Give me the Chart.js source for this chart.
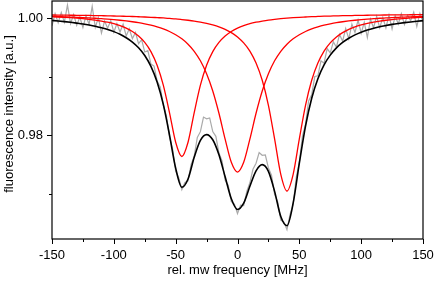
<!DOCTYPE html>
<html>
<head>
<meta charset="utf-8">
<script src="https://cdn.jsdelivr.net/npm/chart.js@4.4.1/dist/chart.umd.min.js"></script>
<style>
html,body{margin:0;padding:0;background:#fff;}
#wrap{width:436px;height:282px;}
</style>
</head>
<body>
<div id="wrap"><canvas id="c" width="436" height="282"></canvas></div>
<script>
// Fit curves sampled every 5 MHz
const fitFreq = [-150,-145,-140,-135,-130,-125,-120,-115,-110,-105,-100,-95,-90,-85,-80,-75,-70,-65,-60,-55,-50,-45,-40,-35,-30,-25,-20,-15,-10,-5,0,5,10,15,20,25,30,35,40,45,50,55,60,65,70,75,80,85,90,95,100,105,110,115,120,125,130,135,140,145,150];
const redLeft = [1.00031,1.00026,1.00021,1.00014,1.00006,0.99997,0.99986,0.99973,0.99956,0.99936,0.99911,0.99878,0.99835,0.99778,0.99700,0.99591,0.99433,0.99199,0.98857,0.98387,0.97879,0.97634,0.97879,0.98387,0.98857,0.99199,0.99433,0.99591,0.99700,0.99778,0.99835,0.99878,0.99911,0.99936,0.99956,0.99973,0.99986,0.99997,1.00006,1.00014,1.00021,1.00026,1.00031,1.00035,1.00039,1.00042,1.00045,1.00048,1.00050,1.00052,1.00054,1.00056,1.00057,1.00059,1.00060,1.00061,1.00062,1.00063,1.00064,1.00065,1.00066];
const redCenter = [1.00035,1.00032,1.00028,1.00025,1.00020,1.00016,1.00010,1.00004,0.99997,0.99990,0.99981,0.99970,0.99958,0.99944,0.99928,0.99908,0.99885,0.99856,0.99821,0.99777,0.99722,0.99651,0.99559,0.99438,0.99275,0.99054,0.98758,0.98376,0.97932,0.97534,0.97367,0.97534,0.97932,0.98376,0.98758,0.99054,0.99275,0.99438,0.99559,0.99651,0.99722,0.99777,0.99821,0.99856,0.99885,0.99908,0.99928,0.99944,0.99958,0.99970,0.99981,0.99990,0.99997,1.00004,1.00010,1.00016,1.00020,1.00025,1.00028,1.00032,1.00035];
const redRight = [1.00060,1.00059,1.00058,1.00056,1.00055,1.00053,1.00052,1.00050,1.00048,1.00046,1.00043,1.00041,1.00037,1.00034,1.00030,1.00026,1.00021,1.00015,1.00009,1.00001,0.99993,0.99982,0.99970,0.99956,0.99938,0.99917,0.99890,0.99857,0.99814,0.99758,0.99684,0.99582,0.99441,0.99237,0.98941,0.98512,0.97936,0.97329,0.97043,0.97329,0.97936,0.98512,0.98941,0.99237,0.99441,0.99582,0.99684,0.99758,0.99814,0.99857,0.99890,0.99917,0.99938,0.99956,0.99970,0.99982,0.99993,1.00001,1.00009,1.00015,1.00021];
const fitSum = [0.99966,0.99957,0.99947,0.99935,0.99921,0.99906,0.99888,0.99867,0.99841,0.99812,0.99775,0.99729,0.99670,0.99596,0.99498,0.99365,0.99179,0.98910,0.98527,0.98005,0.97434,0.97107,0.97248,0.97621,0.97910,0.98010,0.97921,0.97664,0.97286,0.96910,0.96726,0.96834,0.97124,0.97389,0.97495,0.97379,0.97037,0.96604,0.96448,0.96834,0.97519,0.98155,0.98633,0.98968,0.99205,0.99372,0.99497,0.99590,0.99662,0.99719,0.99765,0.99803,0.99832,0.99859,0.99880,0.99899,0.99915,0.99929,0.99941,0.99952,0.99962];

// Measured data sampled every 2.5 MHz
const dataFreq = [-150,-147.5,-145,-142.5,-140,-137.5,-135,-132.5,-130,-127.5,-125,-122.5,-120,-117.5,-115,-112.5,-110,-107.5,-105,-102.5,-100,-97.5,-95,-92.5,-90,-87.5,-85,-82.5,-80,-77.5,-75,-72.5,-70,-67.5,-65,-62.5,-60,-57.5,-55,-52.5,-50,-47.5,-45,-42.5,-40,-37.5,-35,-32.5,-30,-27.5,-25,-22.5,-20,-17.5,-15,-12.5,-10,-7.5,-5,-2.5,0,2.5,5,7.5,10,12.5,15,17.5,20,22.5,25,27.5,30,32.5,35,37.5,40,42.5,45,47.5,50,52.5,55,57.5,60,62.5,65,67.5,70,72.5,75,77.5,80,82.5,85,87.5,90,92.5,95,97.5,100,102.5,105,107.5,110,112.5,115,117.5,120,122.5,125,127.5,130,132.5,135,137.5,140,142.5,145,147.5,150];
const dataIntensity = [0.99876,1.00082,0.99927,1.00102,0.99937,1.00231,0.99915,1.00068,0.99881,1.00024,0.99846,1.00047,0.99898,1.00208,0.99847,1.00015,0.99751,0.99957,0.99832,0.99964,0.99765,0.99913,0.99769,0.99901,0.99700,0.99825,0.99656,0.99760,0.99568,0.99636,0.99425,0.99448,0.99219,0.99184,0.98930,0.98828,0.98517,0.98335,0.97965,0.97765,0.97384,0.97270,0.97067,0.97190,0.97218,0.97500,0.97641,0.97960,0.98060,0.98310,0.98280,0.98295,0.98061,0.97980,0.97694,0.97560,0.97226,0.97140,0.96860,0.96820,0.96656,0.96800,0.96794,0.97035,0.97184,0.97415,0.97519,0.97700,0.97655,0.97660,0.97439,0.97315,0.96987,0.96855,0.96544,0.96510,0.96378,0.96640,0.96814,0.97275,0.97539,0.97985,0.98185,0.98585,0.98693,0.99005,0.99018,0.99275,0.99235,0.99485,0.99412,0.99600,0.99507,0.99727,0.99610,0.99828,0.99652,0.99902,0.99759,0.99973,0.99745,0.99935,0.99673,0.99988,0.99842,1.00036,0.99839,1.00020,0.99840,1.00060,0.99819,1.00047,0.99905,1.00082,0.99899,1.00055,0.99961,1.00107,0.99862,1.00087,0.99942];

const xMajor = [-150,-100,-50,0,50,100,150];
const xMinor = [-125,-75,-25,25,75,125];
const yMajor = [0.98,1.00];
const yMinor = [0.97,0.99];
const xTitle = 'rel. mw frequency [MHz]';
const yTitle = 'fluorescence intensity [a.u.]';

const pts = (xs, ys) => xs.map((x, i) => ({x: x, y: ys[i]}));
const FONT = 'Liberation Sans, Arial, Helvetica, sans-serif';

const framePlugin = {
  id: 'frame',
  afterDraw(chart) {
    const ctx = chart.ctx, a = chart.chartArea;
    const xs = chart.scales.x, ys = chart.scales.y;
    ctx.save();
    ctx.strokeStyle = '#000';
    ctx.lineWidth = 1.2;
    ctx.strokeRect(a.left, a.top, a.right - a.left, a.bottom - a.top);
    ctx.lineWidth = 1;
    ctx.beginPath();
    xMajor.forEach(v => { const p = Math.round(xs.getPixelForValue(v)) + 0.5; ctx.moveTo(p, a.bottom); ctx.lineTo(p, a.bottom + 5); });
    xMinor.forEach(v => { const p = Math.round(xs.getPixelForValue(v)) + 0.5; ctx.moveTo(p, a.bottom); ctx.lineTo(p, a.bottom + 3); });
    yMajor.forEach(v => { const p = Math.round(ys.getPixelForValue(v)) + 0.5; ctx.moveTo(a.left, p); ctx.lineTo(a.left - 5, p); });
    yMinor.forEach(v => { const p = Math.round(ys.getPixelForValue(v)) + 0.5; ctx.moveTo(a.left, p); ctx.lineTo(a.left - 3, p); });
    ctx.stroke();
    ctx.fillStyle = '#000';
    ctx.font = '13px ' + FONT;
    ctx.textAlign = 'center';
    ctx.textBaseline = 'alphabetic';
    ctx.fillText(xTitle, (a.left + a.right) / 2, 274);
    ctx.translate(13, (a.top + a.bottom) / 2 - 6);
    ctx.rotate(-Math.PI / 2);
    ctx.fillText(yTitle, 0, 0);
    ctx.restore();
  }
};

new Chart(document.getElementById('c'), {
  type: 'scatter',
  data: {
    datasets: [
      {data: pts(fitFreq, fitSum), showLine: true, borderColor: '#000', borderWidth: 1.6, pointRadius: 0, cubicInterpolationMode: 'monotone', order: 1},
      {data: pts(fitFreq, redLeft), showLine: true, borderColor: '#ff0000', borderWidth: 1.3, pointRadius: 0, cubicInterpolationMode: 'monotone', order: 2},
      {data: pts(fitFreq, redCenter), showLine: true, borderColor: '#ff0000', borderWidth: 1.3, pointRadius: 0, cubicInterpolationMode: 'monotone', order: 2},
      {data: pts(fitFreq, redRight), showLine: true, borderColor: '#ff0000', borderWidth: 1.3, pointRadius: 0, cubicInterpolationMode: 'monotone', order: 2},
      {data: pts(dataFreq, dataIntensity), showLine: true, borderColor: '#aaaaaa', borderWidth: 1.2, pointRadius: 0, tension: 0, order: 3}
    ]
  },
  options: {
    responsive: false,
    animation: false,
    events: [],
    layout: {autoPadding: false, padding: {top: 1, right: 13, left: 0, bottom: 0}},
    plugins: {legend: {display: false}, tooltip: {enabled: false}},
    scales: {
      x: {
        type: 'linear', min: -150, max: 150,
        afterBuildTicks: s => { s.ticks = xMajor.map(v => ({value: v})); },
        afterFit: s => { s.height = 43; s.paddingLeft = 0; s.paddingRight = 0; },
        grid: {display: false, drawTicks: false},
        border: {display: false},
        ticks: {color: '#000', font: {size: 13, family: FONT}, padding: 9, maxRotation: 0, callback: v => String(v)}
      },
      y: {
        type: 'linear', min: 0.9622, max: 1.003,
        afterBuildTicks: s => { s.ticks = yMajor.map(v => ({value: v})); },
        afterFit: s => { s.width = 52; s.paddingTop = 0; s.paddingBottom = 0; },
        grid: {display: false, drawTicks: false},
        border: {display: false},
        ticks: {color: '#000', font: {size: 13, family: FONT}, padding: 9, callback: v => v.toFixed(2)}
      }
    }
  },
  plugins: [framePlugin]
});
</script>
</body>
</html>
